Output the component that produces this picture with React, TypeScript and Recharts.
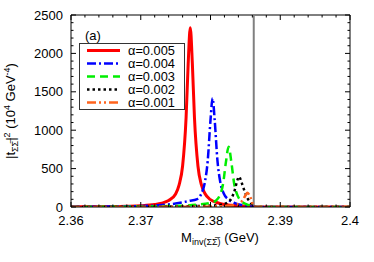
import React from 'react';
import { LineChart, Line, XAxis, YAxis, ReferenceLine, Legend } from 'recharts';

// ---- Data ----
const alphaLabels = ['0.005', '0.004', '0.003', '0.002', '0.001'];

const redX = [2.36, 2.365, 2.368, 2.37, 2.372, 2.373, 2.374, 2.375, 2.3755, 2.376, 2.3765, 2.3768, 2.3771, 2.3774, 2.3777, 2.3782, 2.3787, 2.3792, 2.38, 2.381, 2.382, 2.383, 2.384, 2.385, 2.3858, 2.3862, 2.39, 2.4];
const redY = [3, 6, 10, 16, 32, 50, 85, 170, 288, 534, 1165, 1864, 2335, 1864, 1165, 534, 288, 176, 95, 55, 32, 22, 15, 10, 6, 0, 0, 0];

const blueX = [2.36, 2.365, 2.37, 2.373, 2.375, 2.377, 2.378, 2.3787, 2.3792, 2.3796, 2.38, 2.3803, 2.3806, 2.381, 2.3814, 2.3819, 2.3826, 2.3835, 2.3845, 2.3855, 2.386, 2.3862, 2.39, 2.4];
const blueY = [2, 5, 12, 25, 45, 80, 100, 175, 325, 600, 1132, 1415, 1132, 600, 325, 175, 95, 50, 25, 12, 5, 0, 0, 0];

const greenX = [2.36, 2.37, 2.375, 2.378, 2.38, 2.3808, 2.3813, 2.3818, 2.3822, 2.3826, 2.383, 2.3834, 2.3839, 2.3845, 2.3852, 2.3858, 2.3862, 2.39, 2.4];
const greenY = [1, 6, 14, 30, 55, 85, 145, 300, 577, 785, 577, 300, 145, 70, 35, 15, 0, 0, 0];

const blackX = [2.36, 2.37, 2.376, 2.38, 2.3815, 2.3825, 2.383, 2.3835, 2.3838, 2.3841, 2.3844, 2.3848, 2.3853, 2.3858, 2.3862, 2.39, 2.4];
const blackY = [0.5, 3, 8, 18, 30, 63, 114, 228, 334, 395, 334, 228, 114, 50, 0, 0, 0];

const orangeX = [2.36, 2.37, 2.378, 2.382, 2.3835, 2.3842, 2.3847, 2.385, 2.3853, 2.3856, 2.3859, 2.3862, 2.39, 2.4];
const orangeY = [0.3, 1.5, 4, 12, 25, 50, 100, 150, 186, 150, 80, 0, 0, 0];

const thresholdX = 2.3862;

const xTicks = [2.36, 2.362, 2.364, 2.366, 2.368, 2.37, 2.372, 2.374, 2.376, 2.378, 2.38, 2.382, 2.384, 2.386, 2.388, 2.39, 2.392, 2.394, 2.396, 2.398, 2.4];
const xMajorLabels = ['2.36', '2.37', '2.38', '2.39', '2.4'];
const yTicks = [0, 100, 200, 300, 400, 500, 600, 700, 800, 900, 1000, 1100, 1200, 1300, 1400, 1500, 1600, 1700, 1800, 1900, 2000, 2100, 2200, 2300, 2400, 2500];
const yMajorLabels = ['0', '500', '1000', '1500', '2000', '2500'];

const toData = (xs: number[], ys: number[]) => xs.map((x, i) => ({ x, y: ys[i] }));

const series = [
  { key: 'a5', data: toData(redX, redY), color: '#ff0000', width: 3, dash: undefined as string | undefined },
  { key: 'a4', data: toData(blueX, blueY), color: '#0000ff', width: 2.5, dash: '9 3 2 3' },
  { key: 'a3', data: toData(greenX, greenY), color: '#00ee00', width: 2.5, dash: '8 5' },
  { key: 'a2', data: toData(blackX, blackY), color: '#000000', width: 2.5, dash: '2.5 3' },
  { key: 'a1', data: toData(orangeX, orangeY), color: '#ff641e', width: 2.5, dash: '9 3 2 3 2 3' },
];

// ---- Layout constants ----
const W = 374;
const H = 262;
const PL = 71;
const PR = 350;
const PT = 15;
const PB = 207;
const FONT = '"Liberation Sans", Arial, Helvetica, sans-serif';

const XTick = (props: any) => {
  const { x, payload } = props;
  const lbl = String(Number(Number(payload.value).toFixed(3)));
  const major = xMajorLabels.includes(lbl);
  const len = major ? 5 : 2.5;
  return (
    <g>
      <line x1={x} x2={x} y1={PB} y2={PB - len} stroke="#000" strokeWidth={1} />
      <line x1={x} x2={x} y1={PT} y2={PT + len} stroke="#000" strokeWidth={1} />
      {major && (
        <text x={x} y={PB + 18} textAnchor="middle" fontSize={13} fill="#000" fontFamily={FONT}>
          {lbl}
        </text>
      )}
    </g>
  );
};

const YTick = (props: any) => {
  const { y, payload } = props;
  const lbl = String(payload.value);
  const major = yMajorLabels.includes(lbl);
  const len = major ? 5 : 2.5;
  return (
    <g>
      <line x1={PL} x2={PL + len} y1={y} y2={y} stroke="#000" strokeWidth={1} />
      <line x1={PR} x2={PR - len} y1={y} y2={y} stroke="#000" strokeWidth={1} />
      {major && (
        <text x={PL - 8} y={y + 4.5} textAnchor="end" fontSize={13} fill="#000" fontFamily={FONT}>
          {lbl}
        </text>
      )}
    </g>
  );
};

const XTitle = () => (
  <text x={220} y={242} textAnchor="middle" fontSize={13} fill="#000" fontFamily={FONT}>
    M
    <tspan fontSize={9} dy={3}>inv(ΣΣ&#x0305;)</tspan>
    <tspan dy={-3}> (GeV)</tspan>
  </text>
);

const YTitle = () => (
  <text x={0} y={0} transform="translate(15,111) rotate(-90)" textAnchor="middle" fontSize={13} fill="#000" fontFamily={FONT}>
    |t
    <tspan fontSize={9} dy={3}>ΣΣ&#x0305;</tspan>
    <tspan dy={-3}>|</tspan>
    <tspan fontSize={9} dy={-5}>2</tspan>
    <tspan dy={5}> (10</tspan>
    <tspan fontSize={9} dy={-5}>4</tspan>
    <tspan dy={5}> GeV</tspan>
    <tspan fontSize={9} dy={-5}>-4</tspan>
    <tspan dy={5}>)</tspan>
  </text>
);

const rowY = [25.5, 38.5, 51.5, 64.5, 77.5];

const LegendBox = () => (
  <svg width={130} height={95} style={{ display: 'block', overflow: 'visible' }}>
    <text x={15} y={14.5} fontSize={13} fill="#000" fontFamily={FONT}>(a)</text>
    <rect x={9.5} y={18.5} width={105} height={66} fill="#fff" stroke="#333" strokeWidth={1} />
    {series.map((s, i) => (
      <g key={s.key}>
        <line x1={17} x2={50} y1={rowY[i]} y2={rowY[i]} stroke={s.color} strokeWidth={s.width} strokeDasharray={s.dash} />
        <text x={58} y={rowY[i] + 4.5} fontSize={12.8} fill="#000" fontFamily={FONT}>
          {`α=${alphaLabels[i]}`}
        </text>
      </g>
    ))}
  </svg>
);

export default function App() {
  return (
    <div style={{ position: 'absolute', left: 0, top: 0, width: W, height: H, background: '#fff' }}>
      <LineChart width={W} height={H} margin={{ top: PT, right: W - PR, bottom: 0, left: 0 }}>
        <XAxis
          dataKey="x"
          type="number"
          domain={[2.36, 2.4]}
          allowDataOverflow
          ticks={xTicks}
          interval={0}
          tickSize={0}
          tickMargin={0}
          tickLine={false}
          height={H - PB}
          axisLine={{ stroke: '#000' }}
          tick={<XTick />}
          label={{ content: () => <XTitle /> }}
        />
        <YAxis
          type="number"
          domain={[0, 2500]}
          allowDataOverflow
          ticks={yTicks}
          interval={0}
          tickSize={0}
          tickMargin={0}
          tickLine={false}
          width={PL}
          axisLine={{ stroke: '#000' }}
          tick={<YTick />}
          label={{ content: () => <YTitle /> }}
        />
        <ReferenceLine y={2500} stroke="#000" strokeWidth={1} />
        <ReferenceLine x={2.4} stroke="#000" strokeWidth={1} />
        <ReferenceLine x={thresholdX} stroke="#808080" strokeWidth={2} />
        {series.map((s) => (
          <Line
            key={s.key}
            data={s.data}
            dataKey="y"
            type="monotone"
            stroke={s.color}
            strokeWidth={s.width}
            strokeDasharray={s.dash}
            dot={false}
            activeDot={false}
            isAnimationActive={false}
          />
        ))}
        <Legend
          verticalAlign="middle"
          layout="horizontal"
          wrapperStyle={{ left: 70, top: 25, width: 130, height: 95 }}
          content={() => <LegendBox />}
        />
      </LineChart>
    </div>
  );
}
